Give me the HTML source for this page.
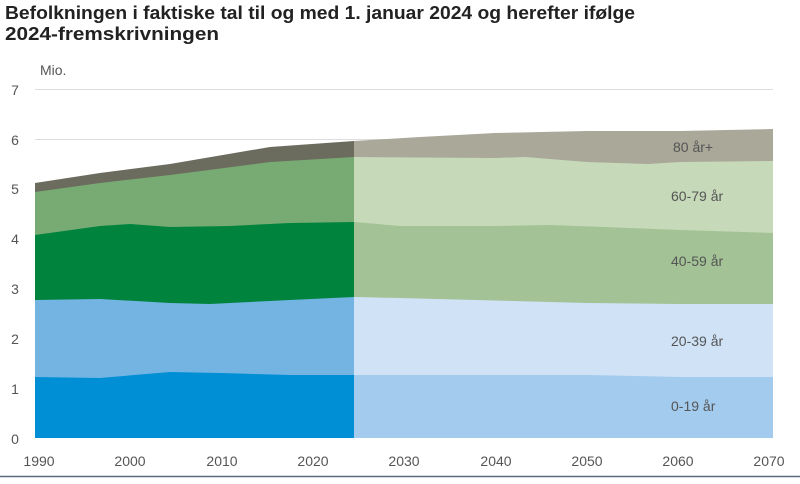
<!DOCTYPE html>
<html><head><meta charset="utf-8"><style>
body{margin:0;background:#fff;width:800px;height:479px;overflow:hidden;font-family:"Liberation Sans",sans-serif}
</style></head><body>
<svg width="800" height="479" xmlns="http://www.w3.org/2000/svg" font-family="Liberation Sans, sans-serif">
<text x="5" y="19" font-size="18" font-weight="bold" fill="#222" textLength="630" lengthAdjust="spacingAndGlyphs">Befolkningen i faktiske tal til og med 1. januar 2024 og herefter ifølge</text>
<text x="5" y="40" font-size="18" font-weight="bold" fill="#222" textLength="214" lengthAdjust="spacingAndGlyphs">2024-fremskrivningen</text>
<line x1="35" y1="89.5" x2="773" y2="89.5" stroke="#ddd"/>
<line x1="35" y1="139.5" x2="773" y2="139.5" stroke="#ddd"/>
<path d="M35,183 L100,173 L170,164 L270,147 L354,141 L354,438 L35,438Z" fill="#6b6b5e"/>
<path d="M35,192 L100,183 L170,175 L270,162 L354,157 L354,438 L35,438Z" fill="#78aa74"/>
<path d="M35,235 L100,226 L130,224 L170,227 L230,226 L290,223 L354,222 L354,438 L35,438Z" fill="#00843d"/>
<path d="M35,300 L100,299 L170,303 L210,304 L290,300 L354,297 L354,438 L35,438Z" fill="#74b4e3"/>
<path d="M35,377 L100,378 L170,372 L220,373 L290,375 L354,375 L354,438 L35,438Z" fill="#008fd5"/>
<path d="M354,141 L420,137 L495,133 L587,131 L680,131 L773,129 L773,438 L354,438Z" fill="#aaa899"/>
<path d="M354,157 L495,158 L525,157 L587,162 L648,164 L680,162 L773,161 L773,438 L354,438Z" fill="#c6d9b8"/>
<path d="M354,222 L400,226 L495,226 L550,225 L680,230 L773,233 L773,438 L354,438Z" fill="#a3c295"/>
<path d="M354,297 L400,298 L587,303 L680,304 L773,304 L773,438 L354,438Z" fill="#cfe2f6"/>
<path d="M354,375 L495,375 L587,375 L680,377 L773,377 L773,438 L354,438Z" fill="#a3cbed"/>
<g font-size="14" fill="#555">
<text x="40" y="75">Mio.</text>
<g text-anchor="middle">
<text x="15" y="95">7</text><text x="15" y="145">6</text><text x="15" y="194">5</text><text x="15" y="244">4</text>
<text x="15" y="294">3</text><text x="15" y="344">2</text><text x="15" y="394">1</text><text x="15" y="444">0</text>
<text x="39" y="466">1990</text><text x="130" y="466">2000</text><text x="222" y="466">2010</text><text x="313" y="466">2020</text>
<text x="404" y="466">2030</text><text x="496" y="466">2040</text><text x="587" y="466">2050</text><text x="678" y="466">2060</text><text x="769" y="466">2070</text>
</g>
<text x="673" y="152">80 år+</text>
<text x="671" y="201">60-79 år</text>
<text x="671" y="266">40-59 år</text>
<text x="671" y="346">20-39 år</text>
<text x="671" y="411">0-19 år</text>
</g>
<line x1="0" y1="476.5" x2="800" y2="476.5" stroke="#5a6a80" stroke-width="1.5"/>
</svg>
</body></html>
